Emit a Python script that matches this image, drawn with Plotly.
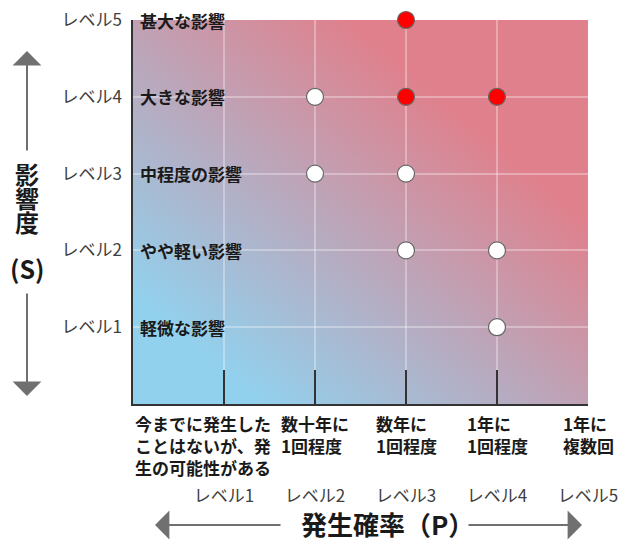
import base64
import plotly.graph_objects as go

# ---------------- data ----------------
levels = [1, 2, 3, 4, 5]
level_labels = ["レベル1", "レベル2", "レベル3", "レベル4", "レベル5"]
impact_labels = ["軽微な影響", "やや軽い影響", "中程度の影響", "大きな影響", "甚大な影響"]
prob_labels = ["今までに発生した<br>ことはないが、発<br>生の可能性がある",
               "数十年に<br>1回程度", "数年に<br>1回程度", "1年に<br>1回程度", "1年に<br>複数回"]

red_p = [3, 3, 4]
red_s = [5, 4, 4]
white_p = [2, 2, 3, 3, 4, 4]
white_s = [4, 3, 3, 2, 2, 1]

FONT = "Noto Sans CJK JP"
BLUE = "#92d1ee"
RED = "#e0808c"
GRAY = "#707070"

W, H = 619, 542
ML, MR, MT, MB = 133, 31, 20, 138

# gradient background as svg image
svg = f'''<svg xmlns="http://www.w3.org/2000/svg" width="455" height="385" viewBox="0 0 455 385" preserveAspectRatio="none">
<defs><linearGradient id="g" x1="0" y1="1" x2="1" y2="0">
<stop offset="0.14" stop-color="{BLUE}"/><stop offset="0.74" stop-color="{RED}"/>
</linearGradient></defs><rect x="0" y="0" width="455" height="385" fill="url(#g)"/></svg>'''
src = "data:image/svg+xml;base64," + base64.b64encode(svg.encode()).decode()

fig = go.Figure()
fig.add_trace(go.Scatter(
    x=white_p, y=white_s, mode="markers", cliponaxis=False,
    marker=dict(size=17, color="white", line=dict(color="#666666", width=1.2)),
    showlegend=False, hoverinfo="skip"))
fig.add_trace(go.Scatter(
    x=red_p, y=red_s, mode="markers", cliponaxis=False,
    marker=dict(size=17, color="#ff0000", line=dict(color="#666666", width=1.2)),
    showlegend=False, hoverinfo="skip"))

fig.add_layout_image(dict(source=src, xref="x", yref="y", x=0, y=5, sizex=5, sizey=5,
                          sizing="stretch", layer="below", xanchor="left", yanchor="top"))

grid = "rgba(255,255,255,0.32)"
fig.update_xaxes(range=[0, 5], tickvals=levels, ticktext=level_labels, automargin=False,
                 ticks="inside", ticklen=34, tickwidth=1.5, tickcolor="#333333",
                 showgrid=True, gridcolor=grid, gridwidth=1.5, zeroline=False,
                 showline=True, linecolor="#333333", linewidth=1.5,
                 ticklabelstandoff=76, tickfont=dict(family=FONT, size=17, color="#404040"),
                 fixedrange=True, layer="above traces")
fig.update_yaxes(range=[0, 5], tickvals=levels, ticktext=level_labels, automargin=False,
                 ticks="", showgrid=True, gridcolor=grid, gridwidth=1.5, zeroline=False,
                 showline=True, linecolor="#333333", linewidth=1.5,
                 ticklabelstandoff=6, tickfont=dict(family=FONT, size=17, color="#404040"),
                 fixedrange=True)


def px(xp):
    return (xp - ML) / (W - ML - MR)


def py_(yp):
    return (H - yp - MB) / (H - MT - MB)


ann = []
for lv, txt in zip(levels, impact_labels):
    ann.append(dict(x=0, y=lv, xref="x", yref="y", text=f"<b>{txt}</b>", showarrow=False,
                    xanchor="left", yanchor="middle", xshift=5,
                    font=dict(family=FONT, size=17, color="#1a1a1a")))
for i, (lv, txt) in enumerate(zip(levels, prob_labels)):
    ann.append(dict(x=0 if i == 0 else lv, y=0, xref="x", yref="y", text=f"<b>{txt}</b>",
                    showarrow=False, xanchor="left" if i == 0 else "center",
                    yanchor="top", yshift=-5, align="left",
                    font=dict(family=FONT, size=17, color="#1a1a1a")))

# axis titles
for ch, yy in zip(["影", "響", "度"], [173, 197, 221]):
    ann.append(dict(x=px(27), y=py_(yy), xref="paper", yref="paper", text=f"<b>{ch}</b>",
                    showarrow=False, xanchor="center", yanchor="middle",
                    font=dict(family=FONT, size=24, color="#1a1a1a")))
ann.append(dict(x=px(27), y=py_(268), xref="paper", yref="paper", text="<b>(S)</b>",
                showarrow=False, xanchor="center", yanchor="middle",
                font=dict(family=FONT, size=25, color="#1a1a1a")))
ann.append(dict(x=px(387), y=py_(523), xref="paper", yref="paper", text="<b>発生確率（P）</b>",
                showarrow=False, xanchor="center", yanchor="middle",
                font=dict(family=FONT, size=26, color="#1a1a1a")))

# arrows: (tail, head) in pixels
arrows = [((27, 152), (27, 51)), ((27, 292), (27, 396)),
          ((282, 525), (155, 525)), ((467, 525), (582, 525))]
for (x0, y0), (x1, y1) in arrows:
    ann.append(dict(x=px(x1), y=py_(y1), ax=x0 - x1, ay=y0 - y1, xref="paper", yref="paper",
                    axref="pixel", ayref="pixel", showarrow=True, arrowhead=1, arrowsize=2.4,
                    arrowwidth=2, arrowcolor=GRAY, text=""))

fig.update_layout(width=W, height=H, margin=dict(l=ML, r=MR, t=MT, b=MB, autoexpand=False),
                  paper_bgcolor="white", plot_bgcolor="white", annotations=ann)

fig.write_html("out.html", config={"displayModeBar": False},
               post_script="document.body.style.margin='0';")
